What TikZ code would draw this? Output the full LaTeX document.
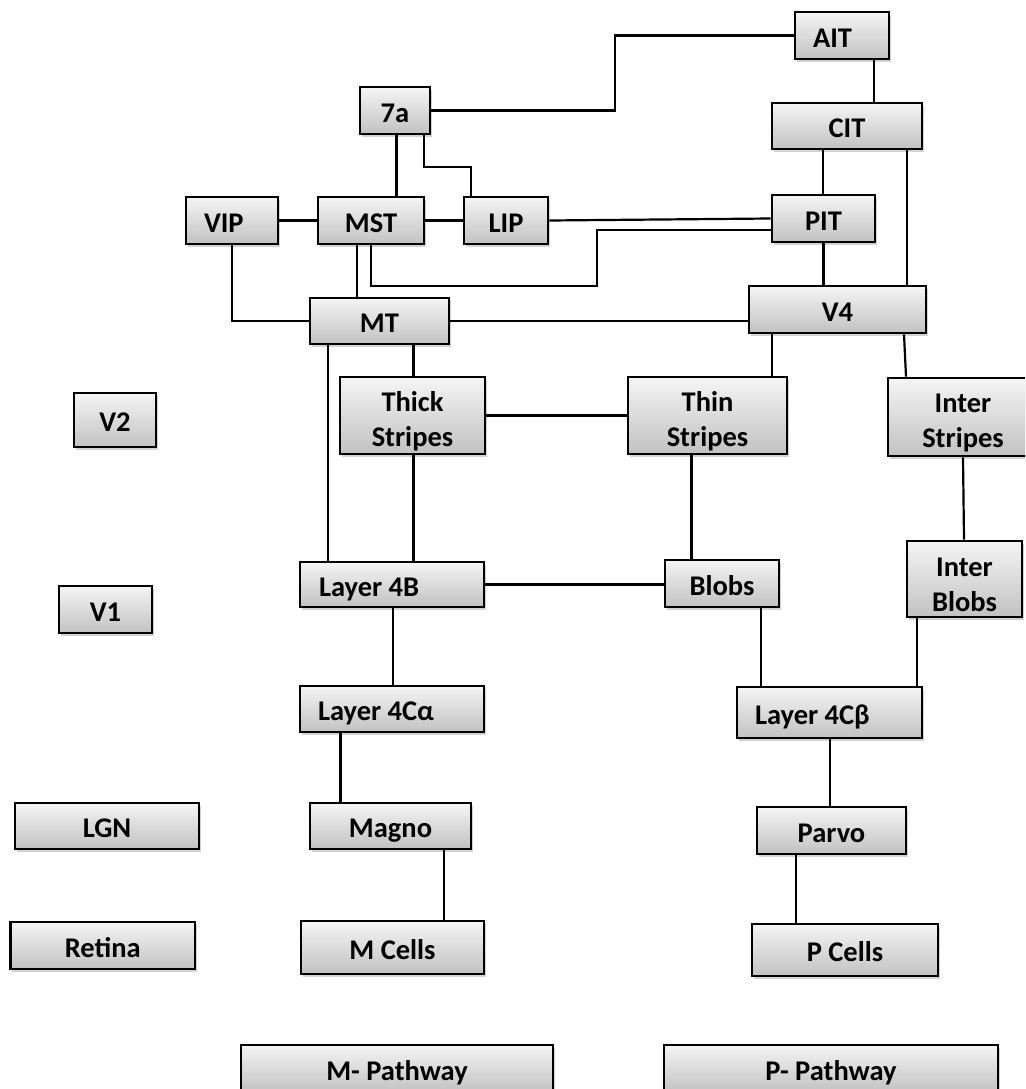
\documentclass[tikz,border=0pt]{standalone}
\usepackage{fontspec}
\setmainfont{Carlito}
\usetikzlibrary{shadows}
\tikzset{
  bxbase/.style={draw=black, line width=2.6pt, top color=gray!8, bottom color=gray!48,
    drop shadow={shadow xshift=1.5pt, shadow yshift=-3pt, opacity=0.35},
    inner sep=0pt, font=\fontsize{28.5}{35}\selectfont\bfseries},
  bx/.style={bxbase, text height=24.5pt, text depth=1pt},
  bxx/.style={bxbase, align=center},
  ln/.style={line width=2.2pt, line join=miter}
}
\newcommand{\tstrut}{\rule{0pt}{31pt}}
\begin{document}
\begin{tikzpicture}[x=1pt,y=-1pt]
\path[use as bounding box, clip] (0,0) rectangle (1025,1089);
\fill[white] (0,0) rectangle (1025,1089);
% boxes
\node[bx, minimum width=94, minimum height=47] (AIT) at (842,35.5) {\makebox[58pt][l]{AIT}};
\node[bx, minimum width=70, minimum height=47] (7a) at (395,110.5) {7a};
\node[bx, minimum width=150, minimum height=46] (CIT) at (847,126) {CIT};
\node[bx, minimum width=92, minimum height=47] (VIP) at (232,220.5) {\makebox[56pt][l]{VIP}};
\node[bx, minimum width=106, minimum height=47] (MST) at (371,220.5) {MST};
\node[bx, minimum width=84, minimum height=47] (LIP) at (506,220.5) {LIP};
\node[bx, minimum width=103, minimum height=47] (PIT) at (823.5,218.5) {PIT};
\node[bx, minimum width=139, minimum height=46] (MT) at (379.5,321) {MT};
\node[bx, minimum width=177, minimum height=47] (V4) at (837.5,309.5) {V4};
\node[bxx, minimum width=145, minimum height=77] (Thick) at (412.5,415.5) {\tstrut Thick\\Stripes};
\node[bxx, minimum width=159, minimum height=77] (Thin) at (707.5,415.5) {\tstrut Thin\\Stripes};
\node[bxx, minimum width=150, minimum height=78] (InterS) at (963,417) {\tstrut Inter\\Stripes};
\node[bx, minimum width=82, minimum height=54] (V2) at (115,420) {V2};
\node[bx, minimum width=184, minimum height=45] (L4B) at (392,584.5) {\makebox[146pt][l]{Layer 4B}};
\node[bx, minimum width=114, minimum height=47] (Blobs) at (722,583.5) {Blobs};
\node[bxx, minimum width=115, minimum height=76] (InterB) at (964.5,579) {\tstrut Inter\\Blobs};
\node[bx, minimum width=93, minimum height=47] (V1) at (105.5,609.5) {V1};
\node[bx, minimum width=184, minimum height=46] (L4Ca) at (392,709) {\makebox[148pt][l]{Layer 4Cα}};
\node[bx, minimum width=185, minimum height=51] (L4Cb) at (829.5,712.5) {\makebox[149pt][l]{Layer 4Cβ}};
\node[bx, minimum width=184, minimum height=46] (LGN) at (107,826) {LGN};
\node[bx, minimum width=161, minimum height=46] (Magno) at (390.5,826) {Magno};
\node[bx, minimum width=149, minimum height=47] (Parvo) at (831.5,830.5) {Parvo};
\node[bx, minimum width=184.5, minimum height=47] (Retina) at (102.75,945.5) {Retina};
\node[bx, minimum width=183, minimum height=53] (MCells) at (392.5,947.5) {M Cells};
\node[bx, minimum width=186, minimum height=52] (PCells) at (845,950) {P Cells};
\node[bx, minimum width=312, minimum height=47] (MPath) at (397,1068.5) {M- Pathway};
\node[bx, minimum width=334, minimum height=47] (PPath) at (831,1068.5) {P- Pathway};
% connectors
\draw[ln] (7a.east) -- ++(184,0) |- (AIT.west);
\draw[ln] ([xshift=32]AIT.south) -- ([xshift=27]CIT.north);
\draw[ln] ([xshift=1.5]7a.south) -- ([xshift=25.5]MST.north);
\draw[ln] ([xshift=29]7a.south) -- ++(0,32) -| ([xshift=-35]LIP.north);
\draw[ln] (VIP.east) -- (MST.west);
\draw[ln] (MST.east) -- (LIP.west);
\draw[ln] (LIP.east) -- (PIT.west);
\draw[ln] ([yshift=-11.5]PIT.west) -- ++(-174,0) -- ++(0,56) -| (MST.south);
\draw[ln] ([xshift=-14]MST.south) -- ([xshift=-22.5]MT.north);
\draw[ln] (VIP.south) |- (MT.west);
\draw[ln] (MT.east) -- (MT.east -| V4.west);
\draw[ln] ([xshift=-24]CIT.south) -- ([xshift=-0.5]PIT.north);
\draw[ln] (PIT.south) -- (PIT.south |- V4.north);
\draw[ln] ([xshift=60]CIT.south) -- ([xshift=69.5]V4.north);
\draw[ln] ([xshift=-51.5]MT.south) -- ([xshift=-64]L4B.north);
\draw[ln] ([xshift=34]MT.south) -- ([xshift=1]Thick.north);
\draw[ln] (Thick.east) -- (Thin.west);
\draw[ln] ([xshift=-65.5]V4.south) -- ([xshift=64.5]Thin.north);
\draw[ln] ([xshift=66.5]V4.south) -- ([xshift=-57]InterS.north);
\draw[ln] ([xshift=1]Thick.south) -- ([xshift=21.5]L4B.north);
\draw[ln] ([xshift=-16]Thin.south) -- ([xshift=-30.5]Blobs.north);
\draw[ln] (InterS.south) -- ([xshift=-0.5]InterB.north);
\draw[ln] (L4B.east) -- (L4B.east -| Blobs.west);
\draw[ln] ([xshift=1]L4B.south) -- ([xshift=1]L4Ca.north);
\draw[ln] ([xshift=39]Blobs.south) -- ([xshift=-68.5]L4Cb.north);
\draw[ln] ([xshift=-47.5]InterB.south) -- ([xshift=87.5]L4Cb.north);
\draw[ln] ([xshift=-51.5]L4Ca.south) -- ([xshift=-50]Magno.north);
\draw[ln] ([xshift=0.5]L4Cb.south) -- ([xshift=-1.5]Parvo.north);
\draw[ln] ([xshift=53.5]Magno.south) -- ([xshift=51.5]MCells.north);
\draw[ln] ([xshift=-35.5]Parvo.south) -- ([xshift=-49]PCells.north);
\end{tikzpicture}
\end{document}
